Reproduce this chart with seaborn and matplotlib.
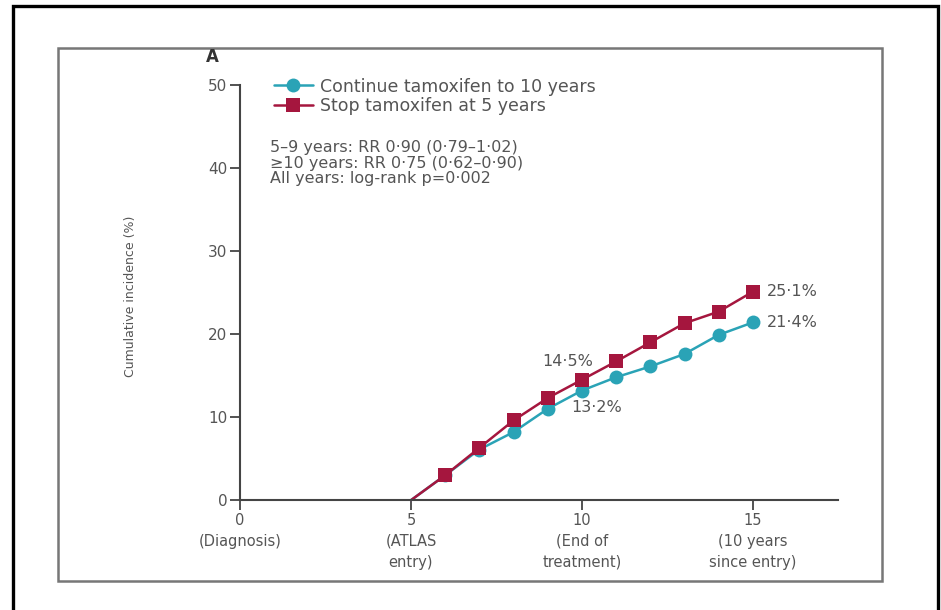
import pandas as pd
import seaborn as sns
import matplotlib.pyplot as plt
from matplotlib.patches import Rectangle

years = [5, 6, 7, 8, 9, 10, 11, 12, 13, 14, 15]
continue_pct = [0.0, 3.0, 6.1, 8.2, 11.0, 13.2, 14.8, 16.1, 17.6, 19.9, 21.4]
stop_pct = [0.0, 3.0, 6.3, 9.6, 12.3, 14.5, 16.7, 19.0, 21.3, 22.7, 25.1]
groups = ["Continue tamoxifen to 10 years", "Stop tamoxifen at 5 years"]
colors = ["#2aa3b6", "#a5163e"]
x_ticks = [0, 5, 10, 15]
x_labels = ["0\n(Diagnosis)", "5\n(ATLAS\nentry)", "10\n(End of\ntreatment)", "15\n(10 years\nsince entry)"]
y_ticks = [0, 10, 20, 30, 40, 50]
stats_lines = [
    "5\u20139 years: RR 0\u00b790 (0\u00b779\u20131\u00b702)",
    "\u226510 years: RR 0\u00b775 (0\u00b762\u20130\u00b790)",
    "All years: log-rank p=0\u00b7002",
]

df = pd.DataFrame({
    "year": years * 2,
    "pct": continue_pct + stop_pct,
    "group": [groups[0]] * len(years) + [groups[1]] * len(years),
})

sns.set_style("white")
plt.rcParams["font.family"] = ["DejaVu Sans"]
grey = "#555555"

fig = plt.figure(figsize=(9.41, 6.10), dpi=100)
ax = fig.add_axes([0.255, 0.180, 0.636, 0.681])

# no marker at the start point (year 5, 0%)
sns.lineplot(
    data=df, x="year", y="pct", hue="group", style="group",
    hue_order=groups, style_order=groups,
    palette=dict(zip(groups, colors)),
    markers={groups[0]: "o", groups[1]: "s"}, dashes=False,
    markersize=10, linewidth=1.8, markeredgewidth=0, ax=ax, clip_on=False,
    markevery=slice(1, None),
)

ax.set_xlim(0, 17.5)
ax.set_ylim(0, 50)
ax.set_xticks(x_ticks)
ax.set_xticklabels(x_labels, fontsize=10.5, color=grey, linespacing=1.5)
ax.set_yticks(y_ticks)
ax.set_yticklabels([str(v) for v in y_ticks], fontsize=11, color=grey)
ax.tick_params(axis="both", direction="out", length=7, width=1.3, color="#444444", pad=2,
               bottom=True, left=True)
for side in ["top", "right"]:
    ax.spines[side].set_visible(False)
for side in ["left", "bottom"]:
    ax.spines[side].set_color("#444444")
    ax.spines[side].set_linewidth(1.5)

ax.set_xlabel("")
ax.set_ylabel("Cumulative incidence (%)", fontsize=9, color=grey)
ax.yaxis.set_label_coords(-0.172, 0.49)

handles, labels = ax.get_legend_handles_labels()
for h in handles:
    h.set_markevery(None)
ax.legend(handles, labels, loc="upper left", bbox_to_anchor=(0.03, 1.055), frameon=False,
          fontsize=12.5, labelcolor=grey, handlelength=2.3, labelspacing=0.08, handletextpad=0.4)

ax.text(0.05, 0.866, "\n".join(stats_lines), transform=ax.transAxes, fontsize=11.5,
        color=grey, va="top", ha="left", linespacing=1.02)

# end labels
ax.annotate("25\u00b71%", xy=(years[-1], stop_pct[-1]), xytext=(10, 0), textcoords="offset points",
            fontsize=11.5, color=grey, va="center", ha="left")
ax.annotate("21\u00b74%", xy=(years[-1], continue_pct[-1]), xytext=(10, 0), textcoords="offset points",
            fontsize=11.5, color=grey, va="center", ha="left")
ax.annotate("14\u00b75%", xy=(years[5], stop_pct[5]), xytext=(8, 13), textcoords="offset points",
            fontsize=11.5, color=grey, va="center", ha="right")
ax.annotate("13\u00b72%", xy=(years[5], continue_pct[5]), xytext=(-8, -12), textcoords="offset points",
            fontsize=11.5, color=grey, va="center", ha="left")

fig.text(0.226, 0.906, "A", fontsize=12, fontweight="bold", color="#333333", ha="center", va="center")

# frames
fig.patches.append(Rectangle((0.0138, -0.02), 0.983, 1.01, transform=fig.transFigure,
                             fill=False, edgecolor="black", linewidth=2.4))
fig.patches.append(Rectangle((0.0616, 0.0475), 0.876, 0.874, transform=fig.transFigure,
                             fill=False, edgecolor="#777777", linewidth=1.8))

fig.savefig("out.png", dpi=100)
